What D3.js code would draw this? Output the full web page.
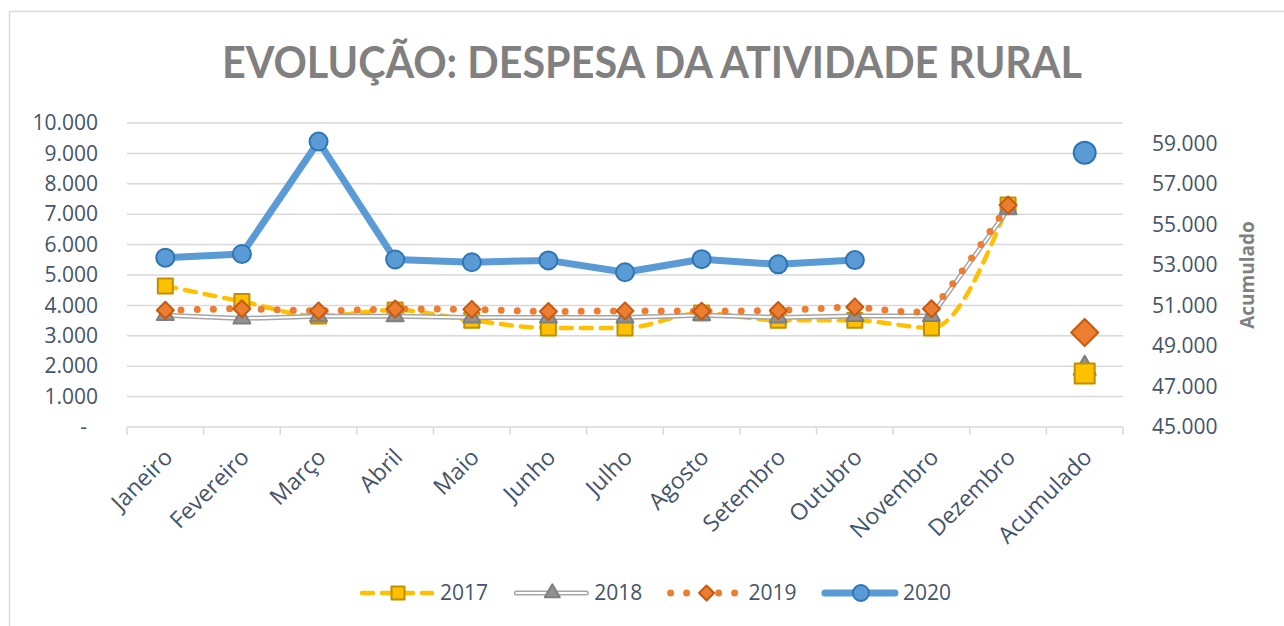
<!DOCTYPE html>
<html>
<head>
<meta charset="utf-8">
<script src="https://cdn.jsdelivr.net/npm/d3@7"></script>
<style>
  body { margin: 0; background: #fff; }
  text { font-family: 'Open Sans', sans-serif; }
</style>
</head>
<body>
<svg id="chart"></svg>
<script>
// data
var months = ['Janeiro', 'Fevereiro', 'Março', 'Abril', 'Maio', 'Junho', 'Julho',
  'Agosto', 'Setembro', 'Outubro', 'Novembro', 'Dezembro'];
var categories = months.concat(['Acumulado']);
var years = ['2017', '2018', '2019', '2020'];
var values2017 = [4640, 4130, 3650, 3850, 3510, 3260, 3260, 3750, 3510, 3510, 3260, 7300];
var values2018 = [3680, 3570, 3640, 3640, 3600, 3600, 3600, 3680, 3600, 3650, 3650, 7160];
var values2019 = [3840, 3890, 3820, 3880, 3870, 3800, 3820, 3810, 3830, 3950, 3890, 7300];
var values2020 = [5570, 5690, 9390, 5510, 5420, 5480, 5090, 5520, 5350, 5490];
var accumulated = [47640, 47890, 49660, 58530];
var leftTicks = d3.range(0, 10001, 1000);
var rightTicks = d3.range(45000, 59001, 2000);

var render = () => {
  var W = 1284, H = 626;
  var plot = { left: 127, right: 1123, top: 123, bottom: 427 };
  var TEXT = '#44546a';
  var GRID = '#d9d9d9';

  var svg = d3.select('#chart').attr('width', W).attr('height', H);

  // chart frame
  svg.append('rect')
    .attr('x', 9.5).attr('y', 11.5)
    .attr('width', 1400).attr('height', 800)
    .attr('fill', '#fff').attr('stroke', GRID).attr('stroke-width', 1.5);

  /**
   * scales
   */
  var x = d3.scaleBand().domain(categories).range([plot.left, plot.right]);
  var cx = c => x(c) + x.bandwidth() / 2;
  var yL = d3.scaleLinear().domain([0, 10000]).range([plot.bottom, plot.top]);
  var yR = d3.scaleLinear().domain([45000, 60000]).range([plot.bottom, plot.top]);

  var locale = d3.formatLocale({ decimal: ',', thousands: '.', grouping: [3], currency: ['', ''] });
  var fmt = locale.format(',');

  // title
  svg.append('text')
    .attr('x', 652).attr('y', 78)
    .attr('text-anchor', 'middle')
    .attr('textLength', 860).attr('lengthAdjust', 'spacingAndGlyphs')
    .style('font-family', 'Lato, sans-serif')
    .style('font-weight', 700).style('font-size', '43px')
    .attr('fill', '#808080')
    .text('EVOLUÇÃO: DESPESA DA ATIVIDADE RURAL');

  // gridlines
  svg.append('g').selectAll('line')
    .data(leftTicks.filter(d => d > 0))
    .enter().append('line')
      .attr('x1', plot.left).attr('x2', plot.right)
      .attr('y1', d => yL(d)).attr('y2', d => yL(d))
      .attr('stroke', GRID).attr('stroke-width', 1.5);

  /**
   * axes
   */
  var left = svg.append('g')
    .attr('transform', `translate(${plot.left},0)`)
    .call(d3.axisLeft(yL).tickValues(leftTicks).tickSize(0).tickPadding(29)
      .tickFormat(d => d === 0 ? '-' : fmt(d)));
  left.select('.domain').remove();
  left.selectAll('text')
    .style('font-size', '21px').style('font-family', "'Open Sans', sans-serif")
    .attr('fill', TEXT);
  left.selectAll('.tick').filter(d => d === 0).select('text').attr('x', -40);

  var right = svg.append('g')
    .attr('transform', `translate(${plot.right},0)`)
    .call(d3.axisRight(yR).tickValues(rightTicks).tickSize(0).tickPadding(29).tickFormat(fmt));
  right.select('.domain').remove();
  right.selectAll('text')
    .style('font-size', '21px').style('font-family', "'Open Sans', sans-serif")
    .attr('fill', TEXT);

  svg.append('text')
    .attr('transform', 'translate(1247,275) rotate(-90)')
    .attr('text-anchor', 'middle').attr('dy', '0.35em')
    .style('font-size', '19px').style('font-weight', 700)
    .attr('fill', '#808080')
    .text('Acumulado');

  // category axis
  var bottom = svg.append('g');
  bottom.append('line')
    .attr('x1', plot.left).attr('x2', plot.right)
    .attr('y1', plot.bottom).attr('y2', plot.bottom)
    .attr('stroke', GRID).attr('stroke-width', 1.5);
  bottom.selectAll('line.tick')
    .data(categories.map(c => x(c)).concat(plot.right))
    .enter().append('line')
      .attr('class', 'tick')
      .attr('x1', d => d).attr('x2', d => d)
      .attr('y1', plot.bottom).attr('y2', plot.bottom + 8)
      .attr('stroke', GRID).attr('stroke-width', 1.5);
  bottom.selectAll('text')
    .data(categories)
    .enter().append('text')
      .attr('transform', c => `translate(${cx(c) + 3},453) rotate(-45)`)
      .attr('text-anchor', 'end').attr('dy', '0.35em')
      .style('font-size', '23px')
      .attr('fill', TEXT)
      .text(c => c);

  /**
   * series
   */
  var series = [
    { name: '2017', values: values2017, curve: d3.curveMonotoneX,
      line: { stroke: '#ffc000', width: 4.5, dash: '11,9' },
      marker: { type: 'square', size: 15, fill: '#ffc000', stroke: '#bf9000' },
      acc: { size: 20 } },
    { name: '2018', values: values2018, curve: d3.curveLinear, double: true,
      line: { stroke: '#a5a5a5', width: 5 },
      marker: { type: 'triangle', size: 17, fill: '#929292', stroke: '#7f7f7f' },
      acc: { size: 22 } },
    { name: '2019', values: values2019, curve: d3.curveCardinal.tension(0.5),
      line: { stroke: '#ed7d31', width: 7, dash: '0,16' },
      marker: { type: 'diamond', size: 17, fill: '#ed7d31', stroke: '#c55a11' },
      acc: { size: 27 } },
    { name: '2020', values: values2020, curve: d3.curveLinear,
      line: { stroke: '#5b9bd5', width: 7 },
      marker: { type: 'circle', size: 18, fill: '#5b9bd5', stroke: '#2e75b6' },
      acc: { size: 22 } }
  ];

  var symbolPath = (type, size) => {
    if (type === 'square') return d3.symbol(d3.symbolSquare, size * size)();
    if (type === 'diamond') return d3.symbol(d3.symbolSquare, size * size / 2)();
    if (type === 'triangle') return d3.symbol(d3.symbolTriangle, Math.sqrt(3) / 4 * size * size)();
    return d3.symbol(d3.symbolCircle, Math.PI * size * size / 4)();
  };
  var drawMarker = (g, m, size, px, py) => {
    g.append('path')
      .attr('d', symbolPath(m.type, size))
      .attr('transform', `translate(${px},${py})` + (m.type === 'diamond' ? ' rotate(45)' : ''))
      .attr('fill', m.fill).attr('stroke', m.stroke).attr('stroke-width', 2)
      .attr('stroke-linejoin', 'round');
  };
  var drawLine = (g, s, d) => {
    var p = g.append('path')
      .attr('d', d).attr('fill', 'none')
      .attr('stroke', s.line.stroke).attr('stroke-width', s.line.width)
      .attr('stroke-linecap', 'round').attr('stroke-linejoin', 'round');
    if (s.line.dash) p.attr('stroke-dasharray', s.line.dash);
    if (s.double) {
      g.append('path')
        .attr('d', d).attr('fill', 'none')
        .attr('stroke', '#fff').attr('stroke-width', 2)
        .attr('stroke-linecap', 'round').attr('stroke-linejoin', 'round');
    }
  };

  var marks = svg.append('g');
  series.forEach(s => {
    var pts = s.values.map((v, i) => [cx(months[i]), yL(v)]);
    var g = marks.append('g');
    drawLine(g, s, d3.line().curve(s.curve)(pts));
    pts.forEach(p => drawMarker(g, s.marker, s.marker.size, p[0], p[1]));
  });

  // accumulated values on the secondary axis
  var accG = svg.append('g');
  series.slice().reverse().forEach(s => {
    var v = accumulated[years.indexOf(s.name)];
    drawMarker(accG, s.marker, s.acc.size, cx('Acumulado'), yR(v));
  });

  /**
   * legend
   */
  var LEG_Y = 593;
  var legend = svg.append('g');
  series.forEach((s, i) => {
    var x0 = 362 + i * 154.3;
    var g = legend.append('g');
    drawLine(g, s, d3.line()([[x0, LEG_Y], [x0 + 70, LEG_Y]]));
    drawMarker(g, s.marker, s.marker.size - 2, x0 + 36, LEG_Y);
    g.append('text')
      .attr('x', x0 + 78).attr('y', LEG_Y).attr('dy', '0.35em')
      .style('font-size', '21px').attr('fill', TEXT)
      .text(s.name);
  });
};

render();
</script>
</body>
</html>
